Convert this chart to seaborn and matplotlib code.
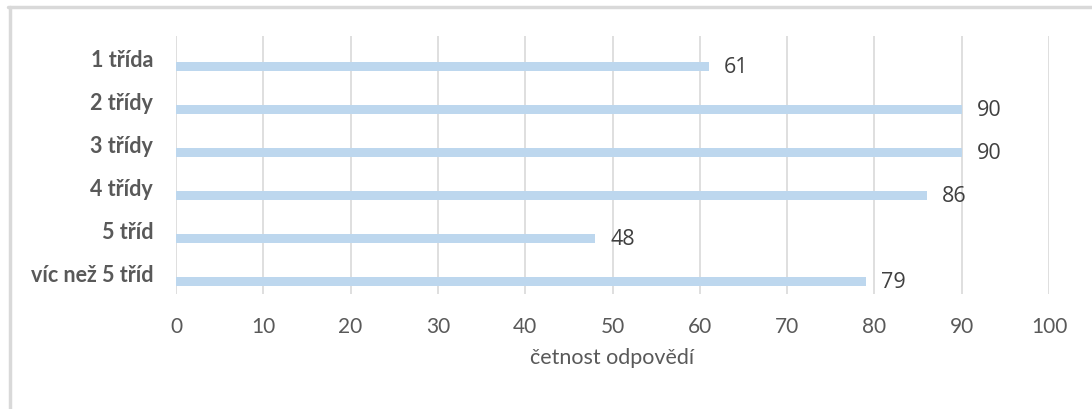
import matplotlib
matplotlib.use("Agg")
import matplotlib.pyplot as plt
import matplotlib.lines as mlines
import seaborn as sns
import pandas as pd

categories = ["1 třída", "2 třídy", "3 třídy", "4 třídy", "5 tříd", "víc než 5 tříd"]
counts = [61, 90, 90, 86, 48, 79]
x_ticks = [0, 10, 20, 30, 40, 50, 60, 70, 80, 90, 100]
x_label = "četnost odpovědí"

bar_color = "#bdd7ee"
grid_color = "#d9d9d9"
text_color = "#595959"
value_color = "#404040"

sns.set_theme(style="white")
plt.rcParams["font.family"] = ["Lato", "DejaVu Sans"]

# An empty companion series keeps each bar in the lower half of its band
df = pd.DataFrame({
    "kategorie": categories * 2,
    "hodnota": [0] * len(categories) + counts,
    "řada": ["_"] * len(categories) + ["četnost"] * len(categories),
})

fig = plt.figure(figsize=(10.92, 4.10), dpi=100)
ax = fig.add_axes([176 / 1092, 1 - 295 / 410, (1049 - 176) / 1092, (295 - 37) / 410])

sns.barplot(
    data=df, x="hodnota", y="kategorie", hue="řada", orient="h",
    order=categories, hue_order=["_", "četnost"],
    palette=[bar_color, bar_color], saturation=1, width=0.84, gap=0.5,
    linewidth=0, legend=False, ax=ax,
)

ax.set_xlim(0, 100)
ax.set_ylim(len(categories) - 0.5, -0.5)
ax.set_xticks(x_ticks)
ax.xaxis.grid(True, color=grid_color, linewidth=1.2)
ax.set_axisbelow(True)
for s in ax.spines.values():
    s.set_visible(False)
ax.tick_params(axis="both", length=0)
ax.tick_params(axis="x", pad=16, labelsize=15, labelcolor=text_color)
ax.tick_params(axis="y", pad=16.5, labelsize=15.5, labelcolor=text_color)
for lbl in ax.get_yticklabels():
    lbl.set_fontweight("bold")
ax.set_ylabel("")
ax.set_xlabel(x_label, fontsize=15.5, color=text_color, labelpad=8)

# value labels on the visible series
bars = ax.containers[1]
ax.bar_label(bars, labels=[str(v) for v in counts], padding=11,
             fontsize=15.5, color=value_color, family=["Open Sans", "DejaVu Sans"])

# chart frame edges
fig.add_artist(mlines.Line2D([8 / 1092, 1], [1 - 8 / 410, 1 - 8 / 410],
                             transform=fig.transFigure, color=grid_color, linewidth=2.5))
fig.add_artist(mlines.Line2D([10 / 1092, 10 / 1092], [0, 1 - 8 / 410],
                             transform=fig.transFigure, color=grid_color, linewidth=2.5))

fig.savefig("out.png", dpi=100, facecolor="white")
